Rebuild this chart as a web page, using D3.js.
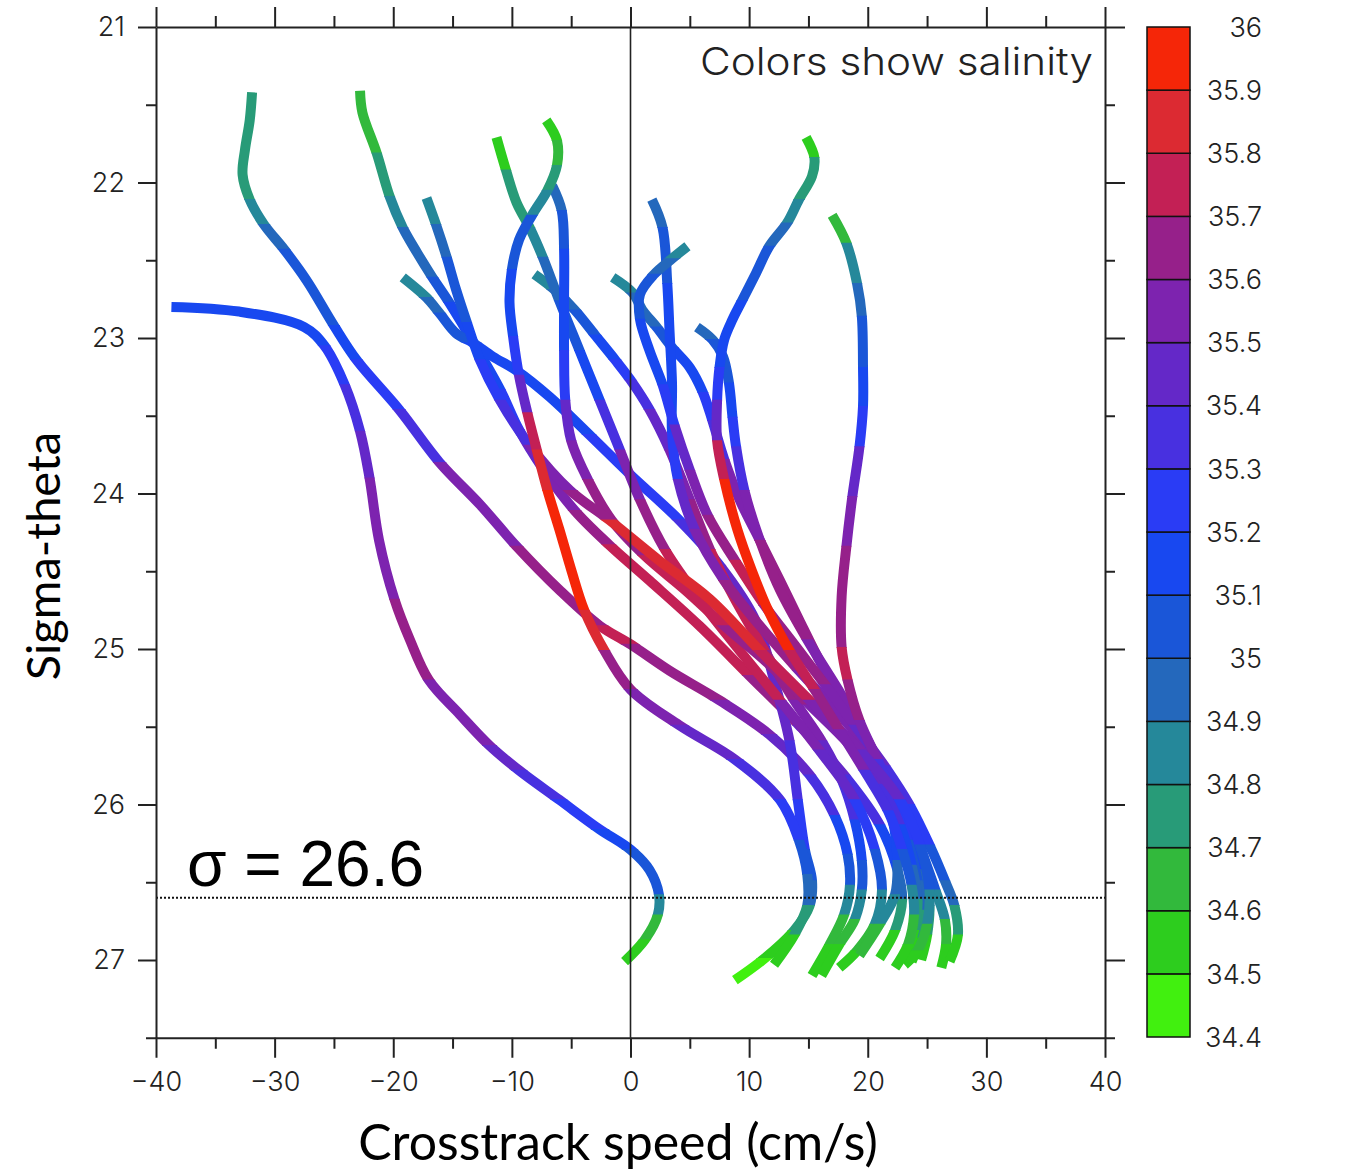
<!DOCTYPE html>
<html>
<head>
<meta charset="utf-8">
<script src="https://cdn.jsdelivr.net/npm/d3@7"></script>
<style>
  html, body { margin: 0; padding: 0; background: #fff; }
  svg { display: block; }
  .tick text { font-family: Inter, "DejaVu Sans", sans-serif; font-weight: 300; fill: #222; }
  .axis path, .axis line { stroke: #222; stroke-width: 2; }
</style>
</head>
<body>
<svg id="chart" width="1351" height="1170"></svg>
<script>
const SPEED_TICKS = [-40, -30, -20, -10, 0, 10, 20, 30, 40];
const SPEED_MINOR = [-35, -25, -15, -5, 5, 15, 25, 35];
const SIGMA_TICKS = [21, 22, 23, 24, 25, 26, 27];
const SIGMA_MINOR = [21.5, 22.5, 23.5, 24.5, 25.5, 26.5, 27.5];
const SAL_LEVELS = [34.4, 34.5, 34.6, 34.7, 34.8, 34.9, 35, 35.1, 35.2, 35.3, 35.4, 35.5, 35.6, 35.7, 35.8, 35.9, 36];
const SAL_COLORS = [
  "#41f00f", "#2dcd1e", "#32b93c", "#289b78", "#25889a", "#2468bc", "#1a56d8", "#1848f0",
  "#2a3cf5", "#4830e0", "#6428c8", "#7d23af", "#96208a", "#c32055", "#dc2a32", "#f52608",
];
const SIGMA_REF = 26.6;

// each profile: [crosstrack speed (cm/s), sigma-theta, salinity]
const profileA = [
  [-38.7, 22.80, 35.15], [-33.0, 22.83, 35.15], [-27.5, 22.93, 35.15], [-25.8, 23.05, 35.15],
  [-24.1, 23.30, 35.25], [-22.8, 23.60, 35.45], [-22.0, 23.90, 35.5], [-21.2, 24.30, 35.55],
  [-19.9, 24.68, 35.6], [-18.6, 24.94, 35.6], [-17.0, 25.20, 35.6], [-14.4, 25.42, 35.55],
  [-11.9, 25.62, 35.5], [-9.4, 25.78, 35.45], [-6.0, 25.97, 35.3], [-2.6, 26.16, 35.15],
  [0.0, 26.29, 35.1], [1.6, 26.42, 35.05], [2.4, 26.58, 34.95], [2.3, 26.71, 34.75],
  [1.2, 26.87, 34.6], [-0.5, 27.01, 34.45],
];
const profileB = [
  [-31.9, 21.42, 34.75], [-32.1, 21.60, 34.75], [-32.5, 21.79, 34.75], [-32.7, 21.95, 34.75],
  [-32.1, 22.11, 34.8], [-30.9, 22.27, 34.85], [-29.2, 22.43, 34.95], [-27.3, 22.63, 35.05],
  [-25.0, 22.92, 35.12], [-23.1, 23.14, 35.15], [-19.5, 23.46, 35.25], [-16.1, 23.80, 35.45],
  [-12.7, 24.07, 35.55], [-9.6, 24.34, 35.6], [-6.0, 24.62, 35.65], [-2.6, 24.85, 35.7],
  [0.0, 24.97, 35.7], [3.3, 25.14, 35.65], [7.5, 25.33, 35.6], [11.7, 25.55, 35.5],
  [15.1, 25.81, 35.4], [17.2, 26.07, 35.25], [18.3, 26.32, 35.1], [18.5, 26.52, 34.95],
  [18.0, 26.71, 34.75], [16.8, 26.90, 34.55], [15.3, 27.10, 34.45],
];
const profileC = [
  [-22.8, 21.41, 34.6], [-22.6, 21.55, 34.65], [-21.4, 21.81, 34.72], [-20.3, 22.09, 34.78],
  [-19.2, 22.29, 34.85], [-18.0, 22.45, 34.95], [-16.7, 22.61, 35.02], [-15.3, 22.77, 35.1],
  [-13.0, 23.06, 35.15], [-11.0, 23.33, 35.2], [-9.4, 23.59, 35.35], [-7.3, 23.85, 35.5],
  [-4.7, 24.11, 35.6], [-1.8, 24.33, 35.7], [1.6, 24.56, 35.75], [5.8, 24.85, 35.75],
  [10.0, 25.17, 35.7], [14.2, 25.49, 35.55], [18.0, 25.81, 35.4], [21.0, 26.13, 35.2],
  [22.5, 26.42, 35.05], [22.9, 26.61, 34.85], [22.3, 26.81, 34.65], [21.0, 26.99, 34.45],
];
const profileD = [
  [-17.2, 22.10, 34.85], [-16.4, 22.27, 34.9], [-15.5, 22.48, 34.98], [-14.7, 22.69, 35.05],
  [-13.8, 22.90, 35.1], [-12.7, 23.14, 35.15], [-11.0, 23.40, 35.3], [-8.5, 23.69, 35.45],
  [-5.1, 23.98, 35.6], [-1.8, 24.17, 35.75], [2.4, 24.43, 35.85], [6.7, 24.68, 35.85],
  [10.9, 25.01, 35.75], [15.1, 25.33, 35.65], [19.3, 25.65, 35.5], [22.7, 25.97, 35.3],
  [24.4, 26.26, 35.15], [25.2, 26.55, 34.95], [25.0, 26.77, 34.7], [24.2, 26.94, 34.55],
  [23.1, 27.03, 34.45],
];
const profileE = [
  [-19.2, 22.61, 34.85], [-17.2, 22.74, 34.9], [-16.1, 22.84, 34.95], [-14.7, 22.97, 35.05],
  [-13.3, 23.03, 35.1], [-11.6, 23.12, 35.12], [-9.6, 23.21, 35.15], [-6.8, 23.38, 35.15],
  [-3.5, 23.62, 35.2], [0.0, 23.88, 35.2], [4.1, 24.17, 35.3], [7.5, 24.46, 35.4],
  [10.5, 24.81, 35.45], [12.1, 25.20, 35.45], [13.4, 25.59, 35.4], [14.1, 25.97, 35.3],
  [14.7, 26.29, 35.15], [15.3, 26.49, 35.0], [15.1, 26.65, 34.8], [13.8, 26.81, 34.65],
  [11.3, 26.99, 34.5], [8.8, 27.13, 34.45],
];
const profileF = [
  [-11.3, 21.71, 34.55], [-10.5, 21.92, 34.65], [-9.6, 22.13, 34.75], [-8.5, 22.29, 34.82],
  [-7.4, 22.48, 34.9], [-6.0, 22.76, 35.0], [-4.3, 23.08, 35.12], [-2.6, 23.40, 35.25],
  [-0.9, 23.72, 35.45], [0.8, 24.04, 35.6], [2.9, 24.36, 35.75], [5.8, 24.68, 35.8],
  [9.2, 25.01, 35.75], [12.6, 25.33, 35.65], [15.9, 25.65, 35.5], [18.9, 25.97, 35.35],
  [20.6, 26.29, 35.2], [21.2, 26.55, 34.95], [20.6, 26.77, 34.72], [19.1, 26.94, 34.55],
  [17.6, 27.05, 34.45],
];
const profileG = [
  [-7.1, 21.60, 34.55], [-6.2, 21.73, 34.65], [-6.2, 21.89, 34.72], [-7.0, 22.05, 34.8],
  [-8.3, 22.21, 34.95], [-9.4, 22.37, 35.05], [-10.0, 22.56, 35.1], [-10.2, 22.77, 35.15],
  [-9.9, 22.99, 35.2], [-9.4, 23.24, 35.35], [-8.7, 23.48, 35.6], [-7.9, 23.72, 35.8],
  [-7.0, 23.98, 35.95], [-6.0, 24.23, 35.95], [-5.0, 24.49, 35.95], [-3.9, 24.75, 35.85],
  [-2.2, 25.01, 35.75], [0.0, 25.26, 35.6], [4.1, 25.49, 35.5], [8.8, 25.71, 35.4],
  [12.6, 25.97, 35.3], [14.2, 26.23, 35.15], [14.9, 26.45, 35.05], [14.9, 26.65, 34.8],
  [13.8, 26.84, 34.6], [12.1, 27.03, 34.45],
];
const profileH = [
  [-6.6, 22.02, 34.85], [-5.8, 22.18, 34.95], [-5.6, 22.43, 35.1], [-5.6, 22.76, 35.15],
  [-5.6, 23.08, 35.15], [-5.5, 23.40, 35.3], [-5.0, 23.66, 35.5], [-3.6, 23.91, 35.6],
  [-1.6, 24.17, 35.65], [1.2, 24.40, 35.7], [4.6, 24.62, 35.75], [7.9, 24.85, 35.7],
  [11.7, 25.10, 35.65], [15.1, 25.36, 35.6], [18.5, 25.62, 35.5], [21.0, 25.87, 35.4],
  [22.7, 26.13, 35.2], [23.7, 26.39, 35.05], [24.2, 26.61, 34.85], [23.9, 26.81, 34.62],
  [23.1, 26.99, 34.45],
];
const profileI = [
  [1.8, 22.11, 34.85], [2.7, 22.29, 34.95], [3.1, 22.65, 35.1], [3.3, 22.97, 35.15],
  [3.5, 23.29, 35.15], [3.5, 23.61, 35.2], [4.0, 23.91, 35.35], [5.4, 24.23, 35.55],
  [7.9, 24.56, 35.65], [10.9, 24.85, 35.65], [14.2, 25.14, 35.6], [17.6, 25.42, 35.55],
  [20.8, 25.71, 35.45], [23.1, 26.00, 35.3], [24.5, 26.29, 35.15], [25.7, 26.55, 34.95],
  [26.5, 26.74, 34.72], [26.6, 26.90, 34.55], [26.2, 27.05, 34.45],
];
const profileJ = [
  [4.8, 22.41, 34.85], [3.5, 22.49, 34.9], [2.0, 22.59, 34.95], [0.8, 22.72, 35.05],
  [0.8, 22.88, 35.1], [1.6, 23.08, 35.15], [2.7, 23.30, 35.2], [3.7, 23.56, 35.35],
  [5.0, 23.85, 35.45], [6.5, 24.14, 35.6], [8.8, 24.43, 35.7], [11.3, 24.72, 35.7],
  [13.8, 24.97, 35.65], [16.4, 25.23, 35.6], [18.9, 25.49, 35.5], [21.4, 25.75, 35.4],
  [23.5, 26.00, 35.25], [25.2, 26.26, 35.15], [26.5, 26.49, 35.0], [27.3, 26.65, 34.85],
  [27.6, 26.84, 34.62], [26.9, 27.01, 34.45],
];
const profileK = [
  [-1.5, 22.61, 34.85], [0.2, 22.71, 34.9], [1.0, 22.82, 34.95], [2.2, 22.93, 35.02],
  [3.5, 23.06, 35.1], [5.0, 23.19, 35.15], [6.1, 23.35, 35.2], [6.9, 23.53, 35.3],
  [7.9, 23.78, 35.45], [9.2, 24.04, 35.55], [10.9, 24.30, 35.6], [12.6, 24.56, 35.65],
  [14.2, 24.81, 35.65], [15.9, 25.07, 35.6], [17.8, 25.33, 35.55], [19.5, 25.59, 35.45],
  [21.0, 25.84, 35.35], [22.1, 26.10, 35.2], [22.5, 26.36, 35.05], [22.3, 26.58, 34.9],
  [21.0, 26.77, 34.7], [19.3, 26.97, 34.5],
];
const profileL = [
  [5.6, 22.93, 34.85], [6.9, 23.01, 34.95], [7.8, 23.12, 35.05], [8.3, 23.29, 35.15],
  [8.6, 23.51, 35.15], [8.9, 23.70, 35.25], [9.6, 23.98, 35.45], [10.9, 24.30, 35.6],
  [12.6, 24.62, 35.65], [14.9, 24.94, 35.6], [17.5, 25.26, 35.55], [20.0, 25.59, 35.45],
  [22.1, 25.91, 35.35], [23.7, 26.16, 35.2], [24.7, 26.42, 35.05], [25.2, 26.65, 34.85],
  [25.0, 26.84, 34.62], [24.5, 27.00, 34.45],
];
const profileM = [
  [14.8, 21.71, 34.55], [15.5, 21.84, 34.65], [15.3, 21.96, 34.75], [14.2, 22.11, 34.82],
  [13.2, 22.26, 34.9], [11.7, 22.41, 35.0], [10.6, 22.58, 35.05], [9.4, 22.76, 35.12],
  [8.6, 22.88, 35.15], [7.9, 23.01, 35.15], [7.5, 23.19, 35.2], [7.3, 23.40, 35.35],
  [7.3, 23.66, 35.6], [7.9, 23.91, 35.85], [9.0, 24.23, 35.95], [10.2, 24.49, 35.95],
  [11.6, 24.75, 35.95], [13.4, 25.01, 35.85], [15.5, 25.26, 35.7], [17.6, 25.52, 35.55],
  [19.7, 25.78, 35.45], [21.7, 26.04, 35.3], [22.9, 26.29, 35.15], [23.7, 26.52, 34.95],
  [23.9, 26.71, 34.72], [23.4, 26.90, 34.55], [22.3, 27.05, 34.45],
];
const profileN = [
  [17.0, 22.21, 34.6], [18.2, 22.39, 34.75], [19.1, 22.65, 34.85], [19.5, 22.86, 35.0],
  [19.6, 23.19, 35.15], [19.6, 23.44, 35.2], [19.3, 23.70, 35.35], [18.7, 24.02, 35.5],
  [18.2, 24.34, 35.6], [17.8, 24.66, 35.65], [17.8, 24.99, 35.7], [18.3, 25.20, 35.7],
  [19.3, 25.46, 35.6], [20.8, 25.71, 35.45], [22.3, 25.97, 35.3], [23.4, 26.23, 35.15],
  [24.2, 26.49, 35.0], [24.6, 26.68, 34.8], [24.4, 26.86, 34.6], [23.7, 27.01, 34.45],
];
const profileO = [
  [-8.1, 22.59, 34.85], [-6.4, 22.69, 34.92], [-4.7, 22.82, 35.0], [-3.0, 22.98, 35.1],
  [-1.3, 23.14, 35.15], [0.0, 23.27, 35.3], [1.6, 23.46, 35.45], [3.3, 23.72, 35.5],
  [5.0, 24.04, 35.6], [6.7, 24.36, 35.7], [8.8, 24.68, 35.75], [11.3, 25.01, 35.7],
  [13.8, 25.33, 35.6], [16.1, 25.59, 35.5], [17.8, 25.84, 35.4], [18.9, 26.10, 35.25],
  [19.5, 26.36, 35.1], [19.5, 26.55, 34.92], [18.9, 26.74, 34.7], [17.6, 26.90, 34.55],
  [16.1, 27.10, 34.45],
];

// drawing order: red profiles last so they sit on top
const PROFILES = [
  profileA, profileB, profileC, profileE, profileO, profileF, profileK, profileL,
  profileI, profileJ, profileN, profileH, profileD, profileG, profileM,
];

const WIDTH = 1351;
const HEIGHT = 1170;
const PLOT = { left: 156, right: 1105, top: 27, bottom: 1037.75 };
const BAR = { left: 1147, width: 43, top: 27, bottom: 1037 };

const svg = d3.select("#chart");
const defs = svg.append("defs");

const x = d3.scaleLinear().domain([-40, 40]).range([PLOT.left, PLOT.right]);
const y = d3.scaleLinear().domain([21, 27.5]).range([PLOT.top, PLOT.bottom]);
const color = d3.scaleThreshold().domain(SAL_LEVELS.slice(1, -1)).range(SAL_COLORS);

const line = d3
  .line()
  .x((d) => x(d[0]))
  .y((d) => y(d[1]))
  .curve(d3.curveCatmullRom.alpha(0.5));

// profiles: each salinity band is the full smooth path clipped to its sigma range
const profileLayer = svg.append("g").attr("class", "profiles");

PROFILES.forEach((profile, pi) => {
  const bands = [];
  for (let i = 0; i < profile.length - 1; i++) {
    const c = color((profile[i][2] + profile[i + 1][2]) / 2);
    const last = bands[bands.length - 1];
    if (last && last.c === c) {
      last.s1 = profile[i + 1][1];
    } else {
      bands.push({ c, s0: profile[i][1], s1: profile[i + 1][1] });
    }
  }
  const d = line(profile);
  bands.forEach((band, bi) => {
    const y0 = bi === 0 ? 0 : y(band.s0) - 0.5;
    const y1 = bi === bands.length - 1 ? HEIGHT : y(band.s1) + 0.5;
    const id = `clip-${pi}-${bi}`;
    defs
      .append("clipPath")
      .attr("id", id)
      .append("rect")
      .attr("x", 0)
      .attr("y", y0)
      .attr("width", WIDTH)
      .attr("height", y1 - y0);
    profileLayer
      .append("path")
      .attr("d", d)
      .attr("clip-path", `url(#${id})`)
      .attr("fill", "none")
      .attr("stroke", band.c)
      .attr("stroke-width", 10)
      .attr("stroke-linecap", "butt")
      .attr("stroke-linejoin", "round");
  });
});

// zero line and reference isopycnal
svg
  .append("line")
  .attr("x1", x(0))
  .attr("x2", x(0))
  .attr("y1", PLOT.top)
  .attr("y2", PLOT.bottom)
  .attr("stroke", "#222")
  .attr("stroke-width", 1.6);

svg
  .append("line")
  .attr("x1", PLOT.left)
  .attr("x2", PLOT.right)
  .attr("y1", y(SIGMA_REF))
  .attr("y2", y(SIGMA_REF))
  .attr("stroke", "#111")
  .attr("stroke-width", 2)
  .attr("stroke-dasharray", "2,2");

svg
  .append("text")
  .attr("x", 187)
  .attr("y", 886)
  .attr("font-family", "'Liberation Sans', Arial, sans-serif")
  .attr("font-size", 64)
  .attr("fill", "#000")
  .text(`σ = ${SIGMA_REF}`);

// axes
const fmtSpeed = (d) => (d < 0 ? `\u2212${-d}` : `${d}`);

function addAxis(axis, transform, labelled) {
  const g = svg.append("g").attr("class", "axis").attr("transform", transform).call(axis);
  if (!labelled) g.selectAll("text").remove();
  return g;
}

addAxis(
  d3.axisLeft(y).tickValues(SIGMA_TICKS).tickSize(18).tickSizeOuter(0).tickPadding(13).tickFormat(d3.format("d")),
  `translate(${PLOT.left},0)`,
  true,
).selectAll("text").attr("font-size", 27);
addAxis(d3.axisLeft(y).tickValues(SIGMA_MINOR).tickSize(10).tickFormat(""), `translate(${PLOT.left},0)`, false)
  .select(".domain").remove();

addAxis(
  d3.axisBottom(x).tickValues(SPEED_TICKS).tickSize(20).tickSizeOuter(0).tickPadding(14).tickFormat(fmtSpeed),
  `translate(0,${PLOT.bottom})`,
  true,
).selectAll("text").attr("font-size", 27);
addAxis(d3.axisBottom(x).tickValues(SPEED_MINOR).tickSize(11).tickFormat(""), `translate(0,${PLOT.bottom})`, false)
  .select(".domain").remove();

addAxis(d3.axisTop(x).tickValues(SPEED_TICKS).tickSize(20).tickSizeOuter(0), `translate(0,${PLOT.top})`, false);
addAxis(d3.axisTop(x).tickValues(SPEED_MINOR).tickSize(11).tickFormat(""), `translate(0,${PLOT.top})`, false)
  .select(".domain").remove();

addAxis(d3.axisRight(y).tickValues(SIGMA_TICKS).tickSize(20).tickSizeOuter(0), `translate(${PLOT.right},0)`, false);
addAxis(d3.axisRight(y).tickValues(SIGMA_MINOR).tickSize(10).tickFormat(""), `translate(${PLOT.right},0)`, false)
  .select(".domain").remove();

// titles
svg
  .append("text")
  .attr("x", 700)
  .attr("y", 75)
  .attr("font-family", "Inter, 'DejaVu Sans', sans-serif")
  .attr("font-weight", 300)
  .attr("font-size", 38)
  .attr("textLength", 393)
  .attr("lengthAdjust", "spacingAndGlyphs")
  .attr("fill", "#222")
  .text("Colors show salinity");

svg
  .append("text")
  .attr("transform", "translate(60,556) rotate(-90)")
  .attr("text-anchor", "middle")
  .attr("font-family", "Lato, 'Open Sans', sans-serif")
  .attr("font-size", 47)
  .attr("fill", "#000")
  .text("Sigma-theta");

svg
  .append("text")
  .attr("x", 618)
  .attr("y", 1160)
  .attr("text-anchor", "middle")
  .attr("font-family", "Lato, 'Open Sans', sans-serif")
  .attr("font-size", 50)
  .attr("fill", "#000")
  .text("Crosstrack speed (cm/s)");

// colour bar
const yBar = d3.scaleLinear().domain([SAL_LEVELS[0], SAL_LEVELS[SAL_LEVELS.length - 1]]).range([BAR.bottom, BAR.top]);
const bar = svg.append("g").attr("class", "colorbar");

bar
  .selectAll("rect")
  .data(SAL_COLORS)
  .join("rect")
  .attr("x", BAR.left)
  .attr("y", (_, i) => yBar(SAL_LEVELS[i + 1]))
  .attr("width", BAR.width)
  .attr("height", (_, i) => yBar(SAL_LEVELS[i]) - yBar(SAL_LEVELS[i + 1]))
  .attr("fill", (c) => c)
  .attr("stroke", "#111")
  .attr("stroke-width", 1.5);

bar
  .selectAll("text")
  .data(SAL_LEVELS)
  .join("text")
  .attr("x", 1262)
  .attr("y", (d) => yBar(d))
  .attr("dy", "0.36em")
  .attr("text-anchor", "end")
  .attr("font-family", "Inter, 'DejaVu Sans', sans-serif")
  .attr("font-weight", 300)
  .attr("font-size", 27)
  .attr("fill", "#222")
  .text((d) => `${Math.round(d * 10) / 10}`);
</script>
</body>
</html>
